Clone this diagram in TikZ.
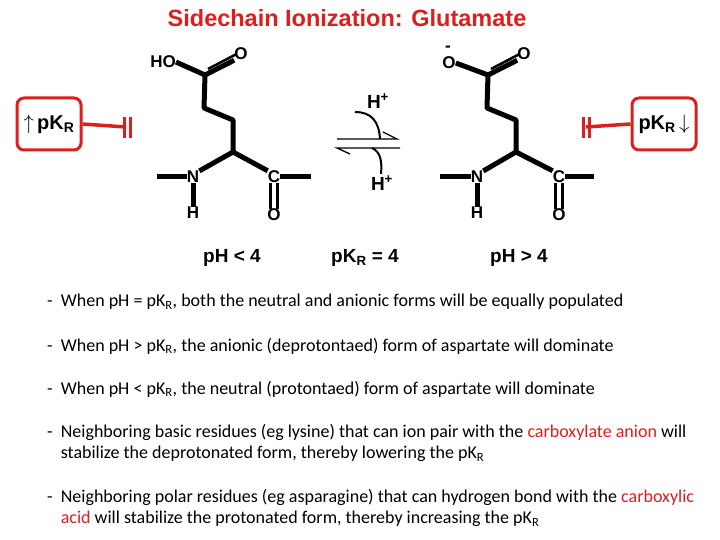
\documentclass[tikz,border=0pt]{standalone}
\usepackage{fontspec}
\usetikzlibrary{calc}
\setmainfont{Liberation Sans}
\newfontfamily\carlfont{Carlito}
\definecolor{myred}{RGB}{220,30,30}
\begin{document}
\begin{tikzpicture}[x=1pt,y=-1pt,
  bond/.style={line width=5pt},
  atom/.style={font=\bfseries\fontsize{17}{17}\selectfont,inner sep=0pt},
  lbl/.style={font=\bfseries\fontsize{19}{19}\selectfont,inner sep=0pt},
  txt/.style={font=\carlfont\fontsize{18}{21.5}\selectfont,anchor=west,inner sep=0pt,align=left},
  rbox/.style={draw=myred,line width=3pt,rounded corners=7pt,minimum width=64pt,minimum height=52pt,font=\bfseries\fontsize{20}{20}\selectfont,inner sep=0pt},
  rl/.style={draw=myred,line width=3.5pt}]
\useasboundingbox (0,0) rectangle (720,540);
\node[font=\bfseries\fontsize{23.5}{23.5}\selectfont,text=myred] (title) at (347,18) {Sidechain Ionization: Glutamate};
% left molecule
\node[atom] (ho) at (163,62) {HO};
\node[atom] (o1) at (241,54) {O};
\coordinate (c1) at (205,75);
\coordinate (b1) at (204,108);
\coordinate (b2) at (233,120);
\coordinate (ca) at (233,152);
\node[atom] (n) at (193,177) {N};
\node[atom] (c) at (274,177) {C};
\node[atom] (h) at (193,213) {H};
\node[atom] (o2) at (274,215) {O};
\coordinate (l1) at (157,177); \coordinate (r1) at (311,177);
\draw[bond,line join=round] (ho.east) -- (c1) -- (b1) -- (b2) -- (ca);
\draw[bond] (c1) -- (o1.south west);
\draw[line width=2.5pt] ($(c1)+(3,-6)$) -- ($(o1.south west)+(2,-6)$);
\draw[bond] (ca) -- (n.north east); \draw[bond] (ca) -- (c.north west);
\draw[bond] (l1) -- (n.west); \draw[bond] (c.east) -- (r1);
\draw[bond] (n.south) -- (h.north);
\draw[line width=3pt] ([xshift=-3.5pt]c.south) -- ([xshift=-3.5pt]o2.north);
\draw[line width=3pt] ([xshift=3.5pt]c.south) -- ([xshift=3.5pt]o2.north);
% right molecule
\node[atom] (om) at (449,63) {O};
\node[atom] (mi) at (448,49) {-};
\node[atom] (o3) at (524,54) {O};
\coordinate (c2) at (488,75);
\coordinate (d1) at (487,108);
\coordinate (d2) at (516,120);
\coordinate (cb) at (516,152);
\node[atom] (n2) at (477,177) {N};
\node[atom] (cc) at (559,177) {C};
\node[atom] (h2) at (477,213) {H};
\node[atom] (o4) at (559,215) {O};
\coordinate (l2) at (440,177); \coordinate (r2) at (594,177);
\draw[bond,line join=round] (om.east) -- (c2) -- (d1) -- (d2) -- (cb);
\draw[bond] (c2) -- (o3.south west);
\draw[line width=2.5pt] ($(c2)+(3,-6)$) -- ($(o3.south west)+(2,-6)$);
\draw[bond] (cb) -- (n2.north east); \draw[bond] (cb) -- (cc.north west);
\draw[bond] (l2) -- (n2.west); \draw[bond] (cc.east) -- (r2);
\draw[bond] (n2.south) -- (h2.north);
\draw[line width=3pt] ([xshift=-3.5pt]cc.south) -- ([xshift=-3.5pt]o4.north);
\draw[line width=3pt] ([xshift=3.5pt]cc.south) -- ([xshift=3.5pt]o4.north);
% equilibrium
\node[atom,font=\bfseries\fontsize{19}{19}\selectfont] (hp1) at (378,101) {H\textsuperscript{+}};
\node[atom,font=\bfseries\fontsize{19}{19}\selectfont] (hp2) at (382,183) {H\textsuperscript{+}};
\coordinate (a1) at (337,139); \coordinate (a2) at (397,139); \coordinate (a3) at (383,132);
\coordinate (e1) at (400,148); \coordinate (e2) at (337,148); \coordinate (e3) at (350,154);
\draw[line width=1.3pt] (a1) -- (a2) -- (a3);
\draw[line width=1.3pt] (e1) -- (e2) -- (e3);
\draw[line width=2pt] (355,112) .. controls (372,112) and (379,122) .. (380,139);
\draw[line width=2pt] (372,148) .. controls (381,152) and (382,162) .. (381,174);
% red boxes
\node[rbox] (lb) at (49,124) {$\uparrow$\,pK\textsubscript{R}};
\coordinate (lbar) at (126,127);
\draw[rl] (lb.east) -- (lbar);
\draw[myred,line width=3pt] (124,117) -- (124,138) (130,117) -- (130,138);
\node[rbox] (rb) at (664,124) {pK\textsubscript{R}\,$\downarrow$};
\coordinate (rbar) at (586,127);
\draw[rl] (rb.west) -- (rbar);
\draw[myred,line width=3pt] (583,117) -- (583,138) (589,117) -- (589,138);
% labels
\node[lbl] (ph1) at (232,258) {pH < 4};
\node[lbl] (pk) at (365,258) {pK\textsubscript{R} = 4};
\node[lbl] (ph2) at (519,258) {pH > 4};
% bullets
\node[txt] (t1) at (47,302) {-\ \ When pH = pK\textsubscript{R}, both the neutral and anionic forms will be equally populated};
\node[txt] (t2) at (47,346) {-\ \ When pH > pK\textsubscript{R}, the anionic (deprotontaed) form of aspartate will dominate};
\node[txt] (t3) at (47,389) {-\ \ When pH < pK\textsubscript{R}, the neutral (protontaed) form of aspartate will dominate};
\node[txt] (t4) at (47,443) {-\ \ Neighboring basic residues (eg lysine) that can ion pair with the \textcolor{myred}{carboxylate anion} will\\\phantom{-\ \ }stabilize the deprotonated form, thereby lowering the pK\textsubscript{R}};
\node[txt] (t5) at (47,508) {-\ \ Neighboring polar residues (eg asparagine) that can hydrogen bond with the \textcolor{myred}{carboxylic}\\\phantom{-\ \ }\textcolor{myred}{acid} will stabilize the protonated form, thereby increasing the pK\textsubscript{R}};
\end{tikzpicture}
\end{document}
